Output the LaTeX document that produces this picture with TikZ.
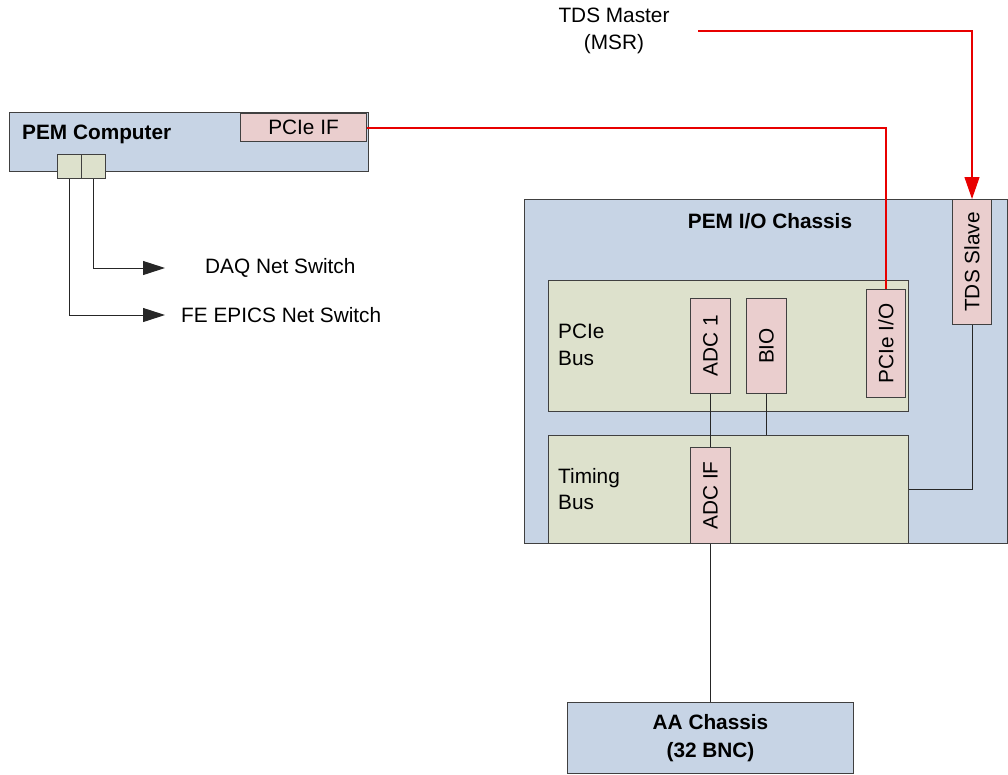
\documentclass[tikz,border=0pt]{standalone}
\usepackage{fontspec}
\usepackage{graphicx}
\setmainfont{Liberation Sans}
\usetikzlibrary{arrows.meta}
\definecolor{chassisblue}{RGB}{199,212,229}
\definecolor{busgreen}{RGB}{221,225,204}
\definecolor{cardpink}{RGB}{234,206,206}
\definecolor{edgegray}{RGB}{64,64,64}
\definecolor{wirered}{RGB}{232,0,0}
\begin{document}
\begin{tikzpicture}[x=1pt,y=-1pt,
  font=\fontsize{20.8}{26.5}\selectfont,
  box/.style={draw=edgegray, line width=1pt, inner sep=0pt, anchor=north west},
  bluebox/.style={box, fill=chassisblue},
  greenbox/.style={box, fill=busgreen},
  pinkbox/.style={box, fill=cardpink},
  wire/.style={draw=black!85, line width=1pt},
  redwire/.style={draw=wirered, line width=1.1pt},
  blackarrow/.style={-{Triangle[length=22pt,width=14pt]}},
  redarrow/.style={-{Triangle[length=22pt,width=15pt]}},
  lbl/.style={inner sep=0pt, align=left}
]
\useasboundingbox (0,0) rectangle (1008,774);

% PEM computer
\node[bluebox, minimum width=359pt, minimum height=59pt] (pemc) at (9,112) {};
\node[lbl, anchor=west, font=\fontsize{20.8}{26.5}\selectfont\bfseries] (pemclbl) at (22,134) {PEM Computer};
\node[pinkbox, minimum width=126pt, minimum height=28pt] (pcieif) at (240,113) {PCIe IF};
\node[greenbox, minimum width=24pt, minimum height=24pt] (port1) at (57,154) {};
\node[greenbox, minimum width=24pt, minimum height=24pt] (port2) at (81,154) {};

\coordinate (daqtip) at (165,268);
\coordinate (fetip) at (165,315);
\node[lbl, anchor=west] (daq) at (205,268) {DAQ Net Switch};
\node[lbl, anchor=west] (fe) at (181,315) {FE EPICS Net Switch};
\draw[wire, blackarrow] (port2.south) |- (daqtip);
\draw[wire, blackarrow] (port1.south) |- (fetip);

% TDS master
\node[align=center, inner sep=0pt] (tdsm) at (614,31) {TDS Master\\(MSR)};
\coordinate (tdsstart) at (698,31);

% PEM I/O chassis
\node[bluebox, minimum width=483pt, minimum height=344pt] (chassis) at (524,199) {};
\node[lbl, font=\fontsize{20.8}{26.5}\selectfont\bfseries] (chassislbl) at (770,221) {PEM I/O Chassis};
\node[pinkbox, minimum width=39pt, minimum height=125pt] (tdsslave) at (952,199) {\rotatebox{90}{TDS Slave}};

\node[greenbox, minimum width=360pt, minimum height=131pt] (pciebus) at (548,280) {};
\node[lbl, anchor=west] (pciebuslbl) at (558,345) {PCIe\\Bus};
\node[pinkbox, minimum width=40pt, minimum height=95pt] (adc1) at (690,298) {\rotatebox{90}{ADC 1}};
\node[pinkbox, minimum width=40pt, minimum height=95pt] (bio) at (746,298) {\rotatebox{90}{BIO}};
\node[pinkbox, minimum width=39pt, minimum height=108pt] (pcieio) at (866,289) {\rotatebox{90}{PCIe I/O}};

\node[greenbox, minimum width=360pt, minimum height=108pt] (timing) at (548,435) {};
\node[lbl, anchor=west] (timinglbl) at (558,489) {Timing\\Bus};
\node[pinkbox, minimum width=40pt, minimum height=96pt] (adcif) at (690,447) {\rotatebox{90}{ADC IF}};

% AA chassis
\node[bluebox, minimum width=286pt, minimum height=71pt, align=center,
      font=\fontsize{20.8}{28}\selectfont\bfseries] (aa) at (567,702) {AA Chassis\\(32 BNC)};

% connectors
\draw[redwire] ([yshift=-0.5pt]pcieif.east) -| (pcieio.north);
\draw[redwire, redarrow] (tdsstart) -| (tdsslave.north);
\draw[wire] (adc1.south) -- (adcif.north);
\draw[wire] (bio.south) -- (bio.south |- timing.north);
\draw[wire] (tdsslave.south) |- (timing.east);
\draw[wire] (adcif.south) -- (aa.north);
\end{tikzpicture}
\end{document}
